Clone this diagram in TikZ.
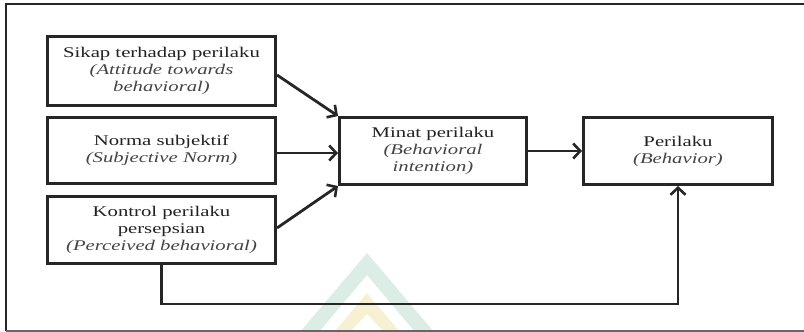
\documentclass[tikz,border=0pt]{standalone}
\usepackage{fontspec}
\setmainfont{Liberation Serif}[FakeStretch=1.4]
\usetikzlibrary{arrows.meta}
\definecolor{txt}{HTML}{222222}
\definecolor{ittxt}{HTML}{444444}
\definecolor{wmgreen}{HTML}{DCEDE5}
\definecolor{wmyellow}{HTML}{F8F0D2}
\newcommand\entxt[1]{{\itshape\color{ittxt}#1}}
\begin{document}
\begin{tikzpicture}[x=1pt,y=-1pt,
  box/.style={draw=black!85, line width=3pt, inner sep=0pt, align=center,
    text=txt, font=\fontsize{14.8}{17}\selectfont},
  conn/.style={draw=black!85, line width=2.8pt,
    -{Straight Barb[length=7pt,width=15pt,line width=2.6pt]}},
  frame/.style={draw=black!85, line width=2.2pt}]
\useasboundingbox (0,0) rectangle (804,332);
% watermark
\fill[wmgreen] (300,332) -- (367,253) -- (434,332) -- (415,332) -- (367,275) -- (319,332) -- cycle;
\fill[wmyellow] (334,332) -- (367,293) -- (400,332) -- (384,332) -- (367,314) -- (350,332) -- cycle;
% frame
\draw[frame] (804,4) -- (6,4) -- (6,331);
\draw[draw=black!60, line width=1.5pt] (6,331) -- (804,331);
% nodes
\node[box, minimum width=228pt, minimum height=69pt] (b1) at (161.5,71)
  {Sikap terhadap perilaku\\\entxt{(Attitude towards}\\\entxt{behavioral)}};
\node[box, minimum width=228pt, minimum height=66pt] (b2) at (161.5,150.5)
  {Norma subjektif\\\entxt{(Subjective Norm)}};
\node[box, minimum width=228pt, minimum height=67pt] (b3) at (161.5,230)
  {Kontrol perilaku\\persepsian\\\entxt{(Perceived behavioral)}};
\node[box, minimum width=187pt, minimum height=67pt] (mi) at (433,151)
  {Minat perilaku\\\entxt{(Behavioral}\\\entxt{intention)}};
\node[box, minimum width=189pt, minimum height=67pt] (pe) at (678,151)
  {Perilaku\\\entxt{(Behavior)}};
% connectors
\coordinate (b1o) at ([yshift=-4pt]b1.east);
\coordinate (b2o) at ([yshift=-2.5pt]b2.east);
\coordinate (b3o) at ([yshift=2pt]b3.east);
\draw[conn] (b1o) -- (mi.north west);
\draw[conn] (b2o) -- (b2o -| mi.west);
\draw[conn] (b3o) -- (mi.south west);
\draw[conn] (mi) -- (pe);
\draw[conn] (b3.south) -- ++(0,39) -| (pe.south);
\end{tikzpicture}
\end{document}
